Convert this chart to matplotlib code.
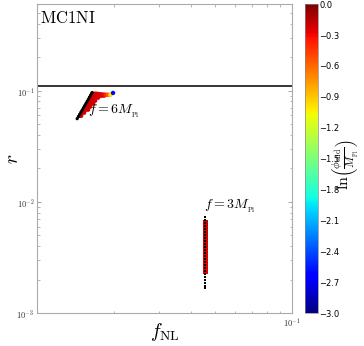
import matplotlib
matplotlib.use("Agg")
import matplotlib.pyplot as plt
from matplotlib.ticker import NullFormatter, LogLocator
import numpy as np

plt.rcParams['mathtext.fontset'] = 'cm'

# ---- data: f = 6 M_Pl ----
f6_black_x = [0.01436, 0.01452, 0.01469, 0.01485, 0.01502, 0.01519, 0.01536,
              0.01554, 0.01571, 0.01589, 0.01607, 0.01625, 0.01644]
f6_black_y = [0.0560, 0.0586, 0.0613, 0.0641, 0.0670, 0.0701, 0.0733,
              0.0767, 0.0802, 0.0839, 0.0877, 0.0917, 0.0960]

f6_fan_x = [0.01475, 0.01489,
            0.01502, 0.01529,
            0.01529, 0.01557, 0.01585,
            0.01557, 0.01585, 0.01614,
            0.01571, 0.01600, 0.01629, 0.01659,
            0.01600, 0.01629, 0.01659, 0.01689,
            0.01614, 0.01644, 0.01674, 0.01704, 0.01735,
            0.01629, 0.01674, 0.01704, 0.01735, 0.01767, 0.01799, 0.01831,
            0.01644, 0.01674, 0.01704, 0.01735, 0.01767, 0.01799, 0.01831,
            0.01865, 0.01899, 0.01933, 0.01951,
            0.01986]
f6_fan_y = [0.0595, 0.0595,
            0.0634, 0.0634,
            0.0675, 0.0675, 0.0675,
            0.0718, 0.0718, 0.0718,
            0.0764, 0.0764, 0.0764, 0.0764,
            0.0813, 0.0813, 0.0813, 0.0813,
            0.0866, 0.0866, 0.0866, 0.0866, 0.0866,
            0.0902, 0.0902, 0.0902, 0.0902, 0.0902, 0.0902, 0.0902,
            0.0940, 0.0940, 0.0940, 0.0935, 0.0930, 0.0925, 0.0922,
            0.0920, 0.0920, 0.0922, 0.0925,
            0.0955]
f6_fan_c = [-0.20, -0.21,
            -0.20, -0.21,
            -0.20, -0.21, -0.22,
            -0.20, -0.21, -0.22,
            -0.20, -0.21, -0.22, -0.23,
            -0.20, -0.21, -0.22, -0.23,
            -0.20, -0.21, -0.22, -0.23, -0.24,
            -0.20, -0.21, -0.22, -0.23, -0.24, -0.26, -0.30,
            -0.20, -0.21, -0.22, -0.23, -0.24, -0.26, -0.30,
            -0.40, -0.55, -0.80, -1.00,
            -2.60]

# ---- data: f = 3 M_Pl ----
f3_black_x = [0.04558] * 25
f3_black_y = [0.007329, 0.006882, 0.006468, 0.006078, 0.005711, 0.005367,
              0.005043, 0.004739, 0.004453, 0.004184, 0.003932, 0.003694,
              0.003472, 0.003262, 0.003065, 0.002880, 0.002707, 0.002543,
              0.002390, 0.002246, 0.002110, 0.001983, 0.001863, 0.001751,
              0.001680]
f3_red_x = [0.04585] * 17
f3_red_y = [0.006600, 0.006200, 0.005850, 0.005500, 0.005200, 0.004900,
            0.004600, 0.004300, 0.004050, 0.003800, 0.003580, 0.003370,
            0.003160, 0.002970, 0.002790, 0.002560, 0.002340]
f3_red_c = [-0.18, -0.19, -0.20, -0.20, -0.21, -0.21, -0.22, -0.22, -0.23,
            -0.23, -0.24, -0.24, -0.25, -0.25, -0.26, -0.26, -0.26]

r_bound = 0.11
cbar_ticks = [-3.0, -2.7, -2.4, -2.1, -1.8, -1.5, -1.2, -0.9, -0.6, -0.3, 0.0]

fig = plt.figure(figsize=(3.64, 3.46), dpi=100)
ax = fig.add_axes([0.102, 0.095, 0.700, 0.893])
cax = fig.add_axes([0.838, 0.095, 0.036, 0.893])

ax.set_xscale('log')
ax.set_yscale('log')

sc = ax.scatter(f6_fan_x, f6_fan_y, c=f6_fan_c, cmap='jet', vmin=-3, vmax=0,
                s=10, marker='o', edgecolors='none', zorder=2)
ax.scatter(f3_red_x, f3_red_y, c=f3_red_c, cmap='jet', vmin=-3, vmax=0,
           s=10, marker='s', edgecolors='none', zorder=2)
ax.scatter(f6_black_x, f6_black_y, c='black', s=5, marker='o',
           edgecolors='none', zorder=3)
ax.plot(f6_black_x, f6_black_y, color='black', lw=1.6, zorder=3)
ax.scatter(f3_black_x, f3_black_y, c='black', s=2.5, marker='s',
           edgecolors='none', zorder=3)

ax.axhline(r_bound, color='black', lw=1.1, zorder=1)

ax.set_xlim(1e-2, 1e-1)
ax.set_ylim(1e-3, 0.6)

ax.set_xticks([1e-2, 1e-1])
ax.set_xticklabels(['', r'$10^{-1}$'])
ax.set_yticks([1e-3, 1e-2, 1e-1])
ax.set_yticklabels([r'$10^{-3}$', r'$10^{-2}$', r'$10^{-1}$'])
ax.xaxis.set_minor_locator(LogLocator(base=10, subs=np.arange(2, 10)))
ax.yaxis.set_minor_locator(LogLocator(base=10, subs=np.arange(2, 10)))
ax.xaxis.set_minor_formatter(NullFormatter())
ax.yaxis.set_minor_formatter(NullFormatter())
ax.tick_params(which='both', direction='in', top=True, right=True,
               colors='#999999', labelcolor='#333333', labelsize=6, pad=2)
ax.tick_params(which='major', length=3, width=0.6)
ax.tick_params(which='minor', length=1.8, width=0.5)
for s in ax.spines.values():
    s.set_color('#aaaaaa')
    s.set_linewidth(0.8)

ax.set_xlabel(r'$f_{\rm NL}$', fontsize=14)
ax.set_ylabel(r'$r$', fontsize=14)
ax.xaxis.set_label_coords(0.5, -0.025)
ax.yaxis.set_label_coords(-0.06, 0.5)

ax.text(0.01, 0.985, r'$\mathrm{MC1NI}$', transform=ax.transAxes,
        fontsize=12, va='top', ha='left')
ax.text(0.0158, 0.0545, r'$f=6M_{_{\rm Pl}}$', fontsize=10, va='bottom', ha='left')
ax.text(0.0452, 0.0076, r'$f=3M_{_{\rm Pl}}$', fontsize=10, va='bottom', ha='left')

cb = fig.colorbar(sc, cax=cax, ticks=cbar_ticks)
cb.ax.tick_params(labelsize=6, length=0, pad=1)
cb.ax.set_yticklabels(['\u22123.0', '\u22122.7', '\u22122.4', '\u22122.1',
                       '\u22121.8', '\u22121.5', '\u22121.2', '\u22120.9',
                       '\u22120.6', '\u22120.3', '0.0'])
cb.outline.set_linewidth(0.5)
cb.outline.set_edgecolor('#888888')
cb.set_label(r'$\ln\!\left(\frac{\phi_{\rm end}}{M_{_{\rm Pl}}}\right)$',
             fontsize=11.5)
cb.ax.yaxis.set_label_coords(2.0, 0.48)

fig.savefig('out.png', dpi=100)
